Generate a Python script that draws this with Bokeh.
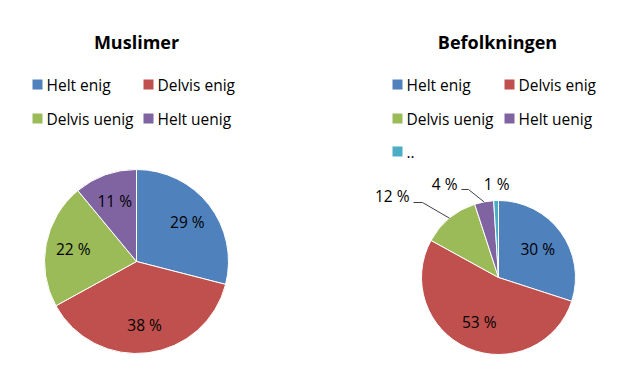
import math
from bokeh.plotting import figure
from bokeh.models import Range1d
from bokeh.core.properties import value
from bokeh.embed import file_html
from bokeh.resources import INLINE

# ---- data ----
categories = ["Helt enig", "Delvis enig", "Delvis uenig", "Helt uenig", ".."]
colors = ["#4F81BD", "#C0504D", "#9BBB59", "#8064A2", "#4BACC6"]
title_left = "Muslimer"
title_right = "Befolkningen"
muslim_values = [29, 38, 22, 11]
pop_values = [30, 53, 12, 4, 1]

FONT = "Open Sans"
W, H = 608, 355
PAGE_H = 371

def Y(py):
    return PAGE_H - py

p = figure(width=W, height=H, output_backend="svg", toolbar_location=None,
           x_range=Range1d(0, W), y_range=Range1d(PAGE_H - H, PAGE_H),
           min_border=0, outline_line_color=None)
p.axis.visible = False
p.grid.visible = False
p.background_fill_color = "white"
p.border_fill_color = "white"


def draw_pie(vals, cx, cy, r, inside_frac, outside):
    total = float(sum(vals))
    cum = 0.0
    starts, ends, mids = [], [], []
    for v in vals:
        a0 = math.pi / 2 - 2 * math.pi * cum / total
        cum += v
        a1 = math.pi / 2 - 2 * math.pi * cum / total
        starts.append(a0)
        ends.append(a1)
        mids.append((a0 + a1) / 2)
    p.wedge(x=cx, y=Y(cy), radius=r, start_angle=starts, end_angle=ends,
            direction="clock", fill_color=colors[:len(vals)],
            line_color="white", line_width=1)
    for i, v in enumerate(vals):
        lbl = f"{v} %"
        if i in outside:
            tx, ty, elbow = outside[i]
            ex = cx + r * math.cos(mids[i])
            ey = Y(cy) + r * math.sin(mids[i])
            if elbow is not None:
                p.line(x=[ex, elbow[0], tx + 4], y=[ey, Y(elbow[1]), Y(elbow[1])],
                       line_color="#404040", line_width=1)
            p.text(x=[tx], y=[Y(ty)], text=[lbl], text_font=value(FONT),
                   text_font_size="15.5px", text_align="right",
                   text_baseline="middle", text_color="black")
        else:
            lx = cx + inside_frac * r * math.cos(mids[i])
            ly = Y(cy) + inside_frac * r * math.sin(mids[i])
            p.text(x=[lx], y=[ly], text=[lbl], text_font=value(FONT),
                   text_font_size="15.5px", text_align="center",
                   text_baseline="middle", text_color="black")


draw_pie(muslim_values, 136, 261, 92, 0.70, {})
draw_pie(pop_values, 498, 277, 77, 0.63,
         {2: (409, 195, (422, 202)), 3: (457, 183, (468, 189)), 4: (509, 183, None)})

# titles
p.text(x=[136, 497], y=[Y(41), Y(41)], text=[title_left, title_right],
       text_font=value(FONT), text_font_size="18px", text_font_style="bold",
       text_align="center", text_baseline="middle", text_color="black")


def legend(x0, x1, rows_y, n):
    for i in range(n):
        col = i % 2
        row = i // 2
        sx = x0 if col == 0 else x1
        sy = rows_y[row]
        p.rect(x=[sx + 5], y=[Y(sy)], width=10, height=10,
               fill_color=colors[i], line_color=None)
        p.text(x=[sx + 14], y=[Y(sy)], text=[categories[i]], text_font=value(FONT),
               text_font_size="15.5px", text_align="left", text_baseline="middle",
               text_color="black")


legend(32, 143, [84, 118], 4)
legend(392, 504, [84, 118, 151], 5)

open("out.html", "w").write(file_html(p, INLINE))
